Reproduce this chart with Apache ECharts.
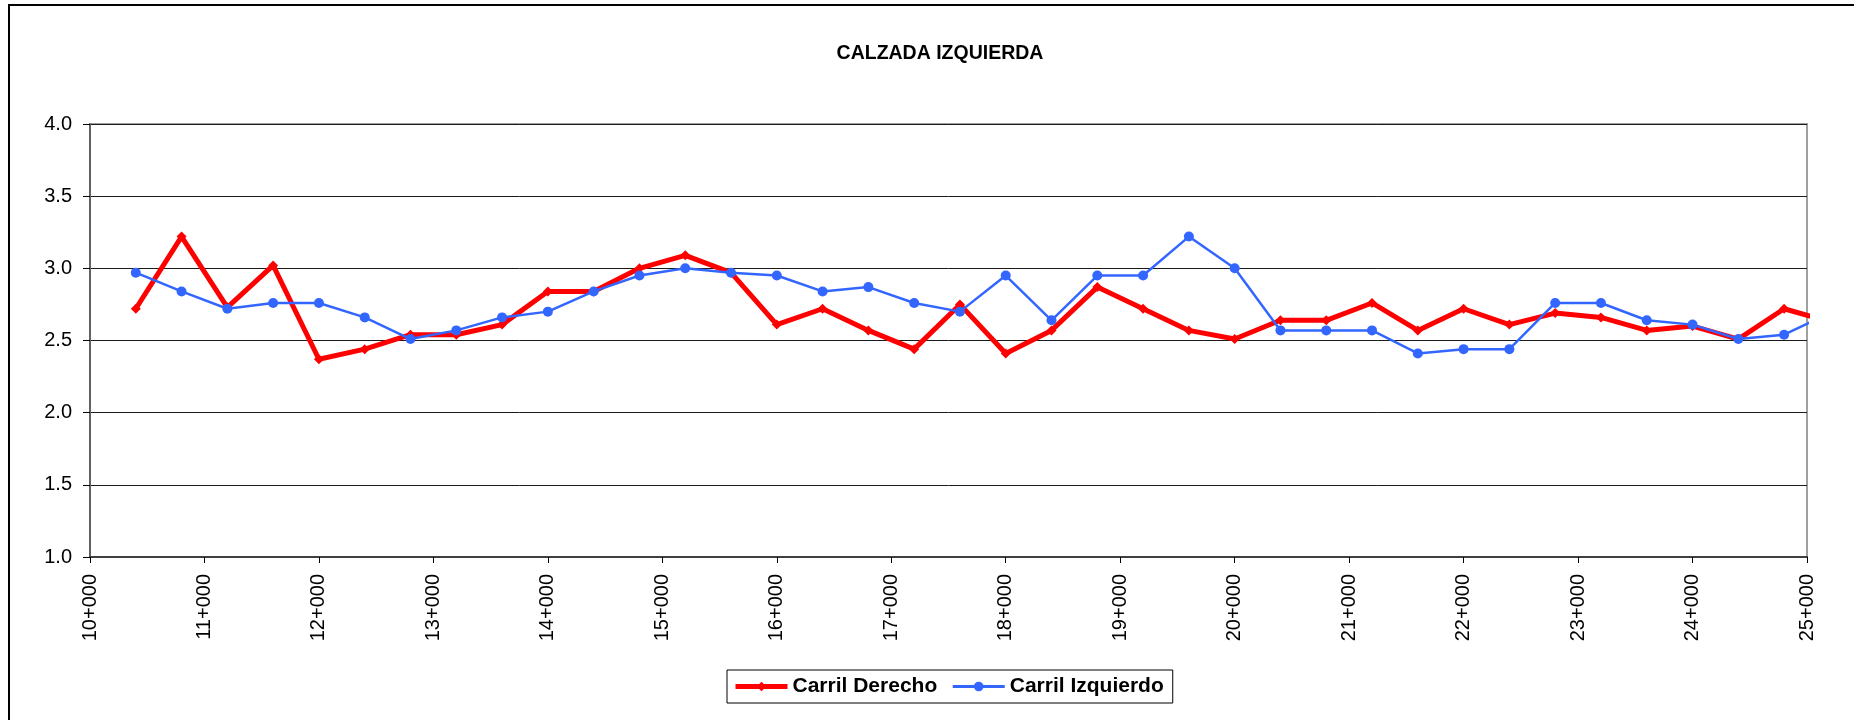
<!DOCTYPE html>
<html>
<head>
<meta charset="utf-8">
<script src="https://cdn.jsdelivr.net/npm/echarts@6/dist/echarts.min.js"></script>
<style>
html,body{margin:0;padding:0;background:#fff;}
#chart{width:1854px;height:720px;}
</style>
</head>
<body>
<div id="chart"></div>
<script>
// Stations (m) every 400 m
const stations = [10400,10800,11200,11600,12000,12400,12800,13200,13600,14000,14400,14800,15200,15600,16000,16400,16800,17200,17600,18000,18400,18800,19200,19600,20000,20400,20800,21200,21600,22000,22400,22800,23200,23600,24000,24400,24800,25200];
const carrilDerecho = [2.72,3.22,2.73,3.02,2.37,2.44,2.54,2.54,2.61,2.84,2.84,3.00,3.09,2.97,2.61,2.72,2.57,2.44,2.75,2.41,2.57,2.87,2.72,2.57,2.51,2.64,2.64,2.76,2.57,2.72,2.61,2.69,2.66,2.57,2.60,2.51,2.72,2.63];
const carrilIzquierdo = [2.97,2.84,2.72,2.76,2.76,2.66,2.51,2.57,2.66,2.70,2.84,2.95,3.00,2.97,2.95,2.84,2.87,2.76,2.70,2.95,2.64,2.95,2.95,3.22,3.00,2.57,2.57,2.57,2.41,2.44,2.44,2.76,2.76,2.64,2.61,2.51,2.54,2.69];
const xTickLabels = ["10+000","11+000","12+000","13+000","14+000","15+000","16+000","17+000","18+000","19+000","20+000","21+000","22+000","23+000","24+000","25+000"];
const yTickLabels = ["1.0","1.5","2.0","2.5","3.0","3.5","4.0"];
const seriesNames = ["Carril Derecho","Carril Izquierdo"];
const titleText = "CALZADA IZQUIERDA";

const font = "'Liberation Sans', Arial, sans-serif";
const pairs = arr => stations.map((s, i) => [s, arr[i]]);
const RED = '#ff0000', BLUE = '#3366ff';

const chart = echarts.init(document.getElementById('chart'), null, {renderer: 'canvas'});
chart.setOption({
  animation: false,
  backgroundColor: '#fff',
  graphic: [{
    type: 'rect', silent: true, z: -1,
    shape: {x: 9, y: 5, width: 2000, height: 1000},
    style: {fill: 'none', stroke: '#000', lineWidth: 2}
  }],
  title: {
    text: titleText,
    left: 935, top: 39, textAlign: 'center',
    textStyle: {fontFamily: font, fontSize: 19.5, fontWeight: 'bold', color: '#000'}
  },
  legend: {
    left: 727, top: 670,
    orient: 'horizontal',
    itemWidth: 52, itemHeight: 12, itemGap: 14,
    padding: [6, 9, 6, 6],
    borderColor: '#000', borderWidth: 1,
    textStyle: {fontFamily: font, fontSize: 21, fontWeight: 'bold', color: '#000', padding: [0,0,0,0]},
    data: [
      {name: seriesNames[0], lineStyle: {color: RED, width: 5}, itemStyle: {color: RED}},
      {name: seriesNames[1], lineStyle: {color: BLUE, width: 3}, itemStyle: {color: BLUE}}
    ]
  },
  grid: {
    left: 90, top: 124, right: 47, bottom: 163,
    show: true, borderColor: '#a0a0a0', borderWidth: 2,
    containLabel: false, outerBoundsMode: 'none'
  },
  xAxis: {
    type: 'value', min: 10000, max: 25000, interval: 1000,
    axisLine: {show: true, onZero: false, lineStyle: {color: '#404040', width: 2}},
    axisTick: {show: true, inside: false, length: 6, lineStyle: {color: '#000', width: 1}},
    splitLine: {show: false},
    axisLabel: {
      rotate: 90, margin: 17, fontFamily: font, fontSize: 20, color: '#000',
      formatter: v => xTickLabels[Math.round((v - 10000) / 1000)]
    }
  },
  yAxis: {
    type: 'value', min: 1, max: 4, interval: 0.5,
    axisLine: {show: true, lineStyle: {color: '#606060', width: 2}},
    axisTick: {show: true, inside: false, length: 7, lineStyle: {color: '#000', width: 1}},
    splitLine: {show: true, lineStyle: {color: '#1a1a1a', width: 1}},
    axisLabel: {
      margin: 18, fontFamily: font, fontSize: 20, color: '#000',
      formatter: v => yTickLabels[Math.round((v - 1) / 0.5)]
    }
  },
  series: [
    {
      name: seriesNames[0], type: 'line', data: pairs(carrilDerecho),
      clip: true,
      symbol: 'diamond', symbolSize: 10, showSymbol: true,
      lineStyle: {color: RED, width: 5},
      itemStyle: {color: RED}
    },
    {
      name: seriesNames[1], type: 'line', data: pairs(carrilIzquierdo),
      clip: true,
      symbol: 'circle', symbolSize: 10, showSymbol: true,
      lineStyle: {color: BLUE, width: 2.5},
      itemStyle: {color: BLUE}
    }
  ]
});
</script>
</body>
</html>
